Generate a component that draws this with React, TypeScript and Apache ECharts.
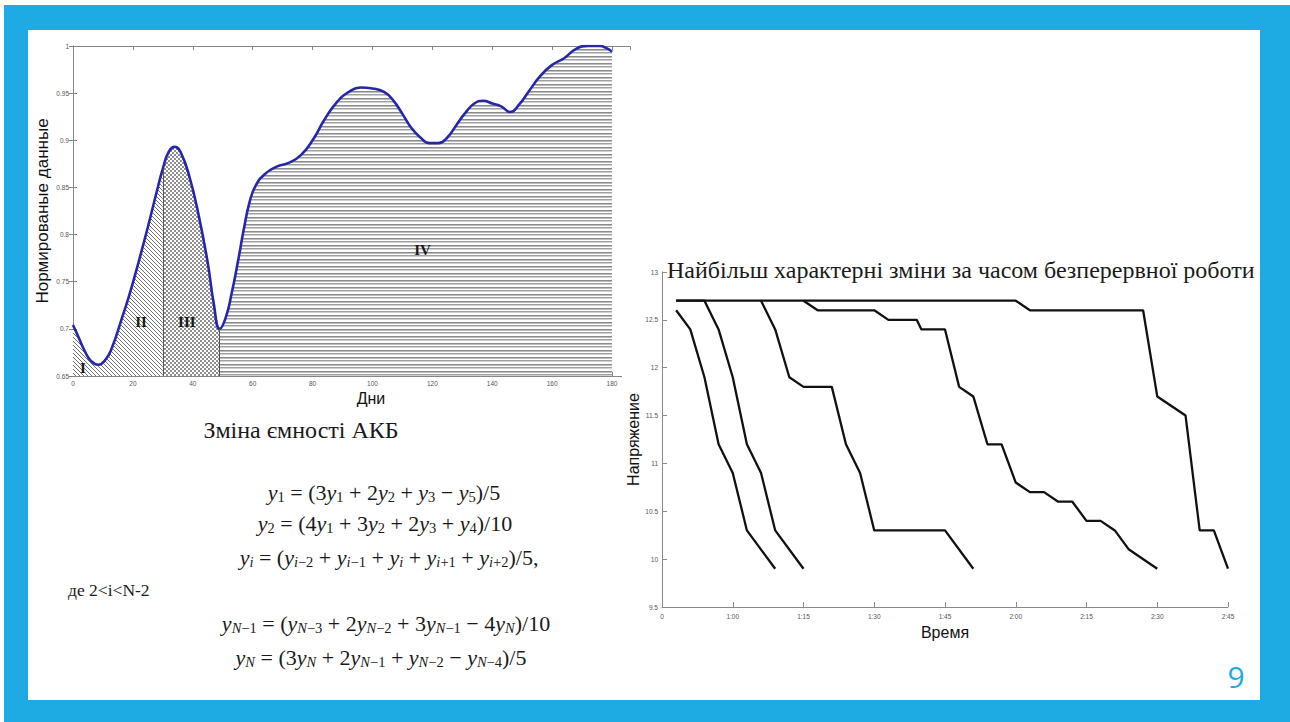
import React, { useEffect, useRef } from 'react';
import * as echarts from 'echarts';

// ---------- data: left chart (battery capacity, normalized) ----------
const DAYS = [0, 2, 4, 6, 8.5, 11, 13, 16, 19, 22, 25, 28, 30, 32, 34, 36, 39, 42, 45, 47, 49, 51, 53, 55, 57, 59, 61, 64, 68, 72, 76, 80, 84, 88, 92, 96, 100, 104, 107, 110, 113, 116, 119, 122, 125, 128, 131, 134, 137, 140, 143, 146, 149, 152, 156, 160, 164, 168, 172, 176, 178, 180];
const CAPACITY = [0.704, 0.690, 0.676, 0.666, 0.662, 0.668, 0.680, 0.708, 0.738, 0.772, 0.808, 0.846, 0.870, 0.888, 0.893, 0.887, 0.860, 0.820, 0.770, 0.727, 0.700, 0.712, 0.738, 0.770, 0.805, 0.835, 0.852, 0.864, 0.872, 0.876, 0.884, 0.900, 0.922, 0.940, 0.951, 0.956, 0.955, 0.951, 0.942, 0.928, 0.913, 0.903, 0.897, 0.897, 0.903, 0.916, 0.929, 0.939, 0.942, 0.939, 0.936, 0.930, 0.938, 0.951, 0.968, 0.980, 0.987, 0.997, 1.0, 1.0, 0.998, 0.994];
const REGION_BOUNDS = [0, 30, 49, 180];
const REGION_NAMES = ['I', 'II', 'III', 'IV'];
const REGION_LABEL_AT = [[3.3, 0.6585], [22.7, 0.707], [38, 0.707], [116.7, 0.784]];
const DAY_MIN = 0, DAY_MAX = 186, DAY_STEP = 20;
const CAP_MIN = 0.65, CAP_MAX = 1, CAP_STEP = 0.05;

// ---------- data: right chart (voltage vs continuous run time, minutes) ----------
const TIME_MIN = 45, TIME_MAX = 165, TIME_STEP = 15;
const VOLT_MIN = 9.5, VOLT_MAX = 13, VOLT_STEP = 0.5;
const RUN_1 = [[48, 12.6], [51, 12.4], [54, 11.9], [57, 11.2], [60, 10.9], [63, 10.3], [69, 9.9]];
const RUN_2 = [[48, 12.7], [54, 12.7], [57, 12.4], [60, 11.9], [63, 11.2], [66, 10.9], [69, 10.3], [75, 9.9]];
const RUN_3 = [[66, 12.7], [69, 12.4], [72, 11.9], [75, 11.8], [81, 11.8], [84, 11.2], [87, 10.9], [90, 10.3], [105, 10.3], [111, 9.9]];
const RUN_4 = [[75, 12.7], [78, 12.6], [90, 12.6], [93, 12.5], [99, 12.5], [100, 12.4], [105, 12.4], [108, 11.8], [111, 11.7], [114, 11.2], [117, 11.2], [120, 10.8], [123, 10.7], [126, 10.7], [129, 10.6], [132, 10.6], [135, 10.4], [138, 10.4], [141, 10.3], [144, 10.1], [150, 9.9]];
const RUN_5 = [[48, 12.7], [120, 12.7], [123, 12.6], [147, 12.6], [150, 11.7], [156, 11.5], [159, 10.3], [162, 10.3], [165, 9.9]];
const RUNS = [RUN_1, RUN_2, RUN_3, RUN_4, RUN_5];

// ---------- texts ----------
const LEFT_Y_NAME = 'Нормированые данные';
const LEFT_X_NAME = 'Дни';
const RIGHT_Y_NAME = 'Напряжение';
const RIGHT_X_NAME = 'Время';
const RIGHT_TITLE = 'Найбільш характерні зміни за часом безперервної роботи';
const LEFT_CAPTION = 'Зміна ємності АКБ';
const FORMULAS = [
  'y_1 = (3y_1 + 2y_2 + y_3 − y_5)/5',
  'y_2 = (4y_1 + 3y_2 + 2y_3 + y_4)/10',
  'y_i = (y_{i−2} + y_{i−1} + y_i + y_{i+1} + y_{i+2})/5,',
  'y_{N−1} = (y_{N−3} + 2y_{N−2} + 3y_{N−1} − 4y_N)/10',
  'y_N = (3y_N + 2y_{N−1} + y_{N−2} − y_{N−4})/5',
];
const FORMULA_NOTE = 'де 2<i<N-2';
const PAGE_NUMBER = '9';

const SERIF = '"Liberation Serif", "Times New Roman", serif';
const SANS = '"Liberation Sans", Arial, sans-serif';
const BLUE = '#1eaae2';

function toRich(src: string): string {
  const out: string[] = [];
  let cur = '';
  let curStyle = '';
  const flush = () => {
    if (cur) out.push(`{${curStyle}|${cur}}`);
    cur = '';
  };
  const push = (style: string, ch: string) => {
    if (style !== curStyle) {
      flush();
      curStyle = style;
    }
    cur += ch;
  };
  let i = 0;
  while (i < src.length) {
    const ch = src[i];
    if (ch === '_') {
      let sub = '';
      if (src[i + 1] === '{') {
        const end = src.indexOf('}', i + 2);
        sub = src.slice(i + 2, end);
        i = end + 1;
      } else {
        sub = src[i + 1];
        i += 2;
      }
      for (const c of sub) push(/[A-Za-z]/.test(c) ? 'si' : 's', c);
      continue;
    }
    push(/[A-Za-z]/.test(ch) ? 'v' : 'n', ch);
    i++;
  }
  flush();
  return out.join('');
}

function makePattern(w: number, h: number, paint: (ctx: CanvasRenderingContext2D) => void) {
  const c = document.createElement('canvas');
  c.width = w;
  c.height = h;
  const ctx = c.getContext('2d')!;
  ctx.fillStyle = '#ffffff';
  ctx.fillRect(0, 0, w, h);
  paint(ctx);
  return { image: c.toDataURL(), repeat: 'repeat', imageWidth: w, imageHeight: h } as any;
}

export default function App() {
  const ref = useRef<HTMLDivElement>(null);

  useEffect(() => {
    document.body.style.margin = '0';
    const chart = echarts.init(ref.current!, null, { renderer: 'svg', width: 1290, height: 722 });

    const diag = makePattern(4, 4, (ctx) => {
      ctx.fillStyle = '#707070';
      for (let k = 0; k < 4; k++) ctx.fillRect(k, k, 1, 1);
    });
    const cross = makePattern(4, 4, (ctx) => {
      ctx.fillStyle = '#8e8e8e';
      ctx.fillRect(0, 0, 2, 2);
      ctx.fillRect(2, 2, 2, 2);
    });
    const horiz = makePattern(4, 7, (ctx) => {
      const rows = ['#8a8a8a', '#bdbdbd', '#ffffff', '#a0a0a0', '#d0d0d0', '#ffffff', '#ffffff'];
      rows.forEach((c, r) => {
        ctx.fillStyle = c;
        ctx.fillRect(0, r, 4, 1);
      });
    });

    const pts = DAYS.map((d, i) => [d, CAPACITY[i]]);
    const regionPatterns = [diag, cross, horiz];
    const regionSeries = [0, 1, 2].map((k) => {
      const from = REGION_BOUNDS[k];
      const to = REGION_BOUNDS[k + 1];
      const s: any = {
        type: 'line',
        xAxisIndex: 0,
        yAxisIndex: 0,
        data: pts.filter(([d]) => d >= from && d <= to),
        smooth: true,
        symbol: 'none',
        lineStyle: { width: 0, opacity: 0 },
        areaStyle: { color: regionPatterns[k], opacity: 1, origin: 'start' },
        silent: true,
        z: 2,
      };
      return s;
    });
    const capAt = (d: number) => CAPACITY[DAYS.indexOf(d)];
    regionSeries[1].markLine = {
      silent: true,
      symbol: 'none',
      label: { show: false },
      lineStyle: { color: '#555', width: 1, type: 'solid' },
      data: [
        [{ coord: [REGION_BOUNDS[1], CAP_MIN] }, { coord: [REGION_BOUNDS[1], capAt(REGION_BOUNDS[1])] }],
        [{ coord: [REGION_BOUNDS[2], CAP_MIN] }, { coord: [REGION_BOUNDS[2], capAt(REGION_BOUNDS[2])] }],
      ],
    };

    const mainLine: any = {
      type: 'line',
      xAxisIndex: 0,
      yAxisIndex: 0,
      data: pts,
      smooth: true,
      symbol: 'none',
      lineStyle: { color: '#2626a8', width: 2.6 },
      z: 3,
      markPoint: {
        silent: true,
        symbol: 'circle',
        symbolSize: 0,
        label: {
          show: true,
          position: 'inside',
          formatter: '{b}',
          fontFamily: SERIF,
          fontWeight: 'bold',
          fontSize: 15,
          color: '#1a1a1a',
        },
        data: REGION_NAMES.map((n, i) => ({ name: n, coord: REGION_LABEL_AT[i] })),
      },
    };

    const runSeries = RUNS.map((r) => ({
      type: 'line',
      xAxisIndex: 2,
      yAxisIndex: 2,
      data: r,
      symbol: 'none',
      lineStyle: { color: '#111', width: 2.3 },
      z: 4,
    }));

    const boxAxisLine = { lineStyle: { color: '#858585', width: 1 } };
    const boxTick = { inside: true, length: 4, lineStyle: { color: '#858585' } };
    const smallLabel = { fontSize: 6.5, color: '#555', fontFamily: SANS };

    const fmtTime = (v: number) => {
      if (v === TIME_MIN) return '0';
      const h = Math.floor(v / 60);
      const m = v % 60;
      return `${h}:${m < 10 ? '0' + m : m}`;
    };

    const FS = 22;
    const SFS = 14.5;
    const rich = {
      v: { fontFamily: SERIF, fontStyle: 'italic', fontSize: FS, lineHeight: 26, verticalAlign: 'middle', fill: '#1a1a1a' },
      n: { fontFamily: SERIF, fontSize: FS, lineHeight: 26, verticalAlign: 'middle', fill: '#1a1a1a' },
      s: { fontFamily: SERIF, fontSize: SFS, lineHeight: 14, padding: [10, 0, 0, 0], verticalAlign: 'middle', fill: '#1a1a1a' },
      si: { fontFamily: SERIF, fontStyle: 'italic', fontSize: SFS, lineHeight: 14, padding: [10, 0, 0, 0], verticalAlign: 'middle', fill: '#1a1a1a' },
    };
    const formulaPos = [[384, 492], [385, 523], [389, 557], [386, 623], [381, 657]];

    const graphics: any[] = [
      { type: 'rect', z: -10, shape: { x: 4, y: 5, width: 1286, height: 717 }, style: { fill: BLUE } },
      { type: 'rect', z: -9, shape: { x: 28, y: 30, width: 1232, height: 670 }, style: { fill: '#ffffff' } },
      { type: 'rect', z: 1, shape: { x: 622, y: 266, width: 636, height: 380 }, style: { fill: '#ffffff' } },
      {
        type: 'text', z: 6, x: 667, y: 270,
        style: { text: RIGHT_TITLE, fontFamily: SERIF, fontSize: 24, fill: '#1a1a1a', align: 'left', verticalAlign: 'middle' },
      },
      {
        type: 'text', z: 6, x: 301, y: 430,
        style: { text: LEFT_CAPTION, fontFamily: SERIF, fontSize: 24, fill: '#1a1a1a', align: 'center', verticalAlign: 'middle' },
      },
      {
        type: 'text', z: 6, x: 68, y: 590,
        style: { text: FORMULA_NOTE, fontFamily: SERIF, fontSize: 17.5, fill: '#1a1a1a', align: 'left', verticalAlign: 'middle' },
      },
      {
        type: 'text', z: 6, x: 1236, y: 676,
        style: { text: PAGE_NUMBER, fontFamily: '"Open Sans", "Noto Sans", sans-serif', fontSize: 30, fill: BLUE, align: 'center', verticalAlign: 'middle' },
      },
      ...FORMULAS.map((f, i) => ({
        type: 'text', z: 6, x: formulaPos[i][0], y: formulaPos[i][1],
        style: { text: toRich(f), rich, align: 'center', verticalAlign: 'middle', fontFamily: SERIF, fontSize: FS },
      })),
    ];

    const option: any = {
      animation: false,
      backgroundColor: '#ffffff',
      grid: [
        { left: 73, top: 46, width: 557, height: 330, outerBoundsMode: 'none' },
        { left: 662, top: 272, width: 566, height: 335, outerBoundsMode: 'none' },
      ],
      xAxis: [
        {
          type: 'value', gridIndex: 0, position: 'bottom', min: DAY_MIN, max: DAY_MAX, interval: DAY_STEP,
          axisLine: boxAxisLine, axisTick: boxTick, splitLine: { show: false },
          axisLabel: { ...smallLabel, margin: 4, formatter: (v: number) => (v % DAY_STEP === 0 ? String(v) : '') },
          name: LEFT_X_NAME, nameLocation: 'middle', nameGap: 14,
          nameTextStyle: { fontFamily: SANS, fontSize: 16, color: '#111', padding: [0, 0, 0, 39] },
        },
        {
          type: 'value', gridIndex: 0, position: 'top', min: DAY_MIN, max: DAY_MAX, interval: DAY_STEP,
          axisLine: boxAxisLine, axisTick: boxTick, splitLine: { show: false }, axisLabel: { show: false },
        },
        {
          type: 'value', gridIndex: 1, position: 'bottom', min: TIME_MIN, max: TIME_MAX, interval: TIME_STEP, z: 3,
          axisLine: { lineStyle: { color: '#8a8a8a', width: 1 } },
          axisTick: { inside: true, length: 5, lineStyle: { color: '#8a8a8a' } },
          splitLine: { show: false },
          axisLabel: { ...smallLabel, margin: 6, formatter: fmtTime },
          name: RIGHT_X_NAME, nameLocation: 'middle', nameGap: 17,
          nameTextStyle: { fontFamily: SANS, fontSize: 16, color: '#111' },
        },
      ],
      yAxis: [
        {
          type: 'value', gridIndex: 0, position: 'left', min: CAP_MIN, max: CAP_MAX, interval: CAP_STEP,
          axisLine: { show: true, ...boxAxisLine }, axisTick: { show: true, ...boxTick }, splitLine: { show: false },
          axisLabel: { ...smallLabel, margin: 4 },
          name: LEFT_Y_NAME, nameLocation: 'middle', nameGap: 22,
          nameTextStyle: { fontFamily: SANS, fontSize: 17, color: '#111' },
        },
        {
          type: 'value', gridIndex: 0, position: 'right', min: CAP_MIN, max: CAP_MAX, interval: CAP_STEP,
          axisLine: { show: true, ...boxAxisLine }, axisTick: { show: true, ...boxTick }, splitLine: { show: false },
          axisLabel: { show: false },
        },
        {
          type: 'value', gridIndex: 1, position: 'left', min: VOLT_MIN, max: VOLT_MAX, interval: VOLT_STEP, z: 3,
          axisLine: { show: true, lineStyle: { color: '#8a8a8a', width: 1 } },
          axisTick: { show: true, inside: true, length: 5, lineStyle: { color: '#8a8a8a' } },
          splitLine: { show: false },
          axisLabel: { ...smallLabel, margin: 4 },
          name: RIGHT_Y_NAME, nameLocation: 'middle', nameGap: 21,
          nameTextStyle: { fontFamily: SANS, fontSize: 16, color: '#111' },
        },
      ],
      graphic: graphics,
      series: [...regionSeries, mainLine, ...runSeries],
    };

    chart.setOption(option);
    return () => chart.dispose();
  }, []);

  return <div ref={ref} style={{ position: 'absolute', left: 0, top: 0, width: 1290, height: 722 }} />;
}
